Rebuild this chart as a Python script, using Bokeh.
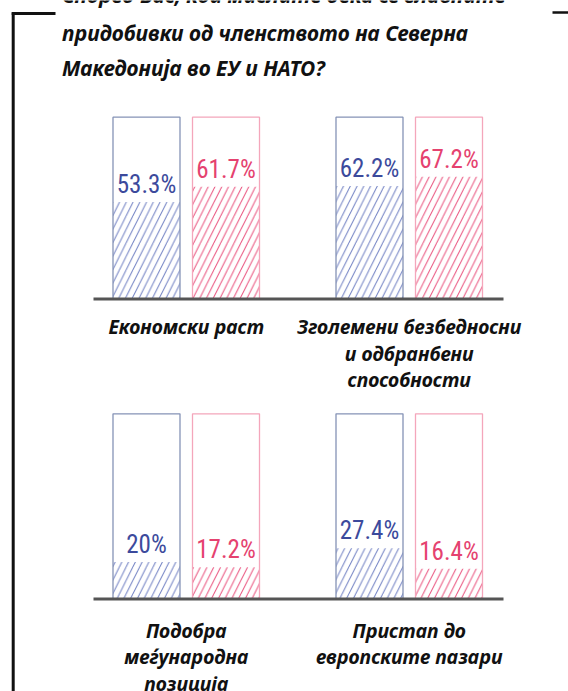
from bokeh.plotting import figure
from bokeh.models import Range1d
from bokeh.embed import file_html
from bokeh.resources import INLINE
from bokeh.core.properties import value

# ---------------- data ----------------
title_lines = [
    "Според Вас, кои мислите дека се главните",
    "придобивки од членството на Северна",
    "Македонија во ЕУ и НАТО?",
]
categories = [
    ["Економски раст"],
    ["Зголемени безбедносни", "и одбранбени", "способности"],
    ["Подобра", "меѓународна", "позиција"],
    ["Пристап до", "европските пазари"],
]
series_blue = [53.3, 62.2, 20.0, 27.4]
series_pink = [61.7, 67.2, 17.2, 16.4]
FULL = 100

# ---------------- layout (page pixels) ----------------
W, H = 568, 691
BLUE_OUT, PINK_OUT = "#8593b6", "#f4a6bb"
BLUE_HATCH, PINK_HATCH = "#6f7fc2", "#e9507c"
BLUE_TXT, PINK_TXT = "#3c4a9c", "#e5426f"
TITLE_FONT = value("Noto Sans")
NUM_FONT = value("Roboto Condensed, DejaVu Sans Condensed, Liberation Sans Narrow, sans-serif")

X0 = 146.0          # page x of first bar centre
BAR_PITCH = 79.5
GROUP_PITCH = 223.0
BAR_W = 67.0
BASE_X = (93.0, 503.0)
ROW_ZERO = [298.5, 598.5]   # page y of value 0
ROW_FULL = [116.7, 413.3]   # page y of value FULL
LABEL_Y = [326.0, 629.5]
LABEL_LH = 26.5
TITLE_X = 61.5
TITLE_Y = [-6.0, 32.5, 67.0]

p = figure(width=W, height=H, output_backend="svg", toolbar_location=None,
           x_range=Range1d(0, W), y_range=Range1d(H, 0),
           x_axis_type=None, y_axis_type=None, min_border=0,
           outline_line_color=None, background_fill_color="white")
p.xgrid.visible = False
p.ygrid.visible = False

for r in range(2):
    z, f = ROW_ZERO[r], ROW_FULL[r]
    k = (z - f) / FULL
    p.extra_y_ranges[f"row{r}"] = Range1d(start=(z - H) / k, end=z / k)

for r in range(2):
    rn = f"row{r}"
    idx = [2 * r, 2 * r + 1]
    for s, (vals, oc, hc, tc) in enumerate([
            (series_blue, BLUE_OUT, BLUE_HATCH, BLUE_TXT),
            (series_pink, PINK_OUT, PINK_HATCH, PINK_TXT)]):
        xs = [X0 + (i % 2) * GROUP_PITCH + s * BAR_PITCH for i in idx]
        vs = [vals[i] for i in idx]
        labels = [f"{v:g}%" for v in vs]
        p.vbar(x=xs, top=vs, bottom=0, width=BAR_W, y_range_name=rn,
               fill_color="white", fill_alpha=0, line_color=None,
               hatch_pattern="/", hatch_color=hc, hatch_scale=13.5, hatch_weight=1)
        p.vbar(x=xs, top=FULL, bottom=0, width=BAR_W, y_range_name=rn,
               fill_color=None, line_color=oc, line_width=1.3)
        p.text(x=xs, y=vs, text=labels, y_range_name=rn, y_offset=-17.5,
               text_align="center", text_baseline="middle",
               text_font=NUM_FONT, text_font_size="25px", text_color=tc)
    p.segment(x0=[BASE_X[0]], x1=[BASE_X[1]], y0=[0], y1=[0],
              y_range_name=rn, line_width=3, line_color="#555555")
    # category labels
    for i in idx:
        cx = X0 + (i % 2) * GROUP_PITCH + BAR_PITCH / 2
        lines = categories[i]
        p.text(x=[cx] * len(lines),
               y=[LABEL_Y[r] + j * LABEL_LH for j in range(len(lines))],
               text=lines, text_align="center", text_baseline="middle",
               text_font=TITLE_FONT, text_font_style="bold italic",
               text_font_size="19.5px", text_color="#111111")

# title
p.text(x=[TITLE_X] * 3, y=TITLE_Y, text=title_lines,
       text_align="left", text_baseline="middle",
       text_font=TITLE_FONT, text_font_style="bold italic",
       text_font_size="21px", text_color="#111111")

# frame decoration
p.line(x=[12.7, 12.7], y=[12.0, H + 5], line_width=3, line_color="#111111")
p.line(x=[11.2, 55.0], y=[13.0, 13.0], line_width=3, line_color="#111111")
p.line(x=[552.0, W + 5], y=[12.0, 12.0], line_width=2.5, line_color="#111111")

open("out.html", "w").write(file_html(p, INLINE))
